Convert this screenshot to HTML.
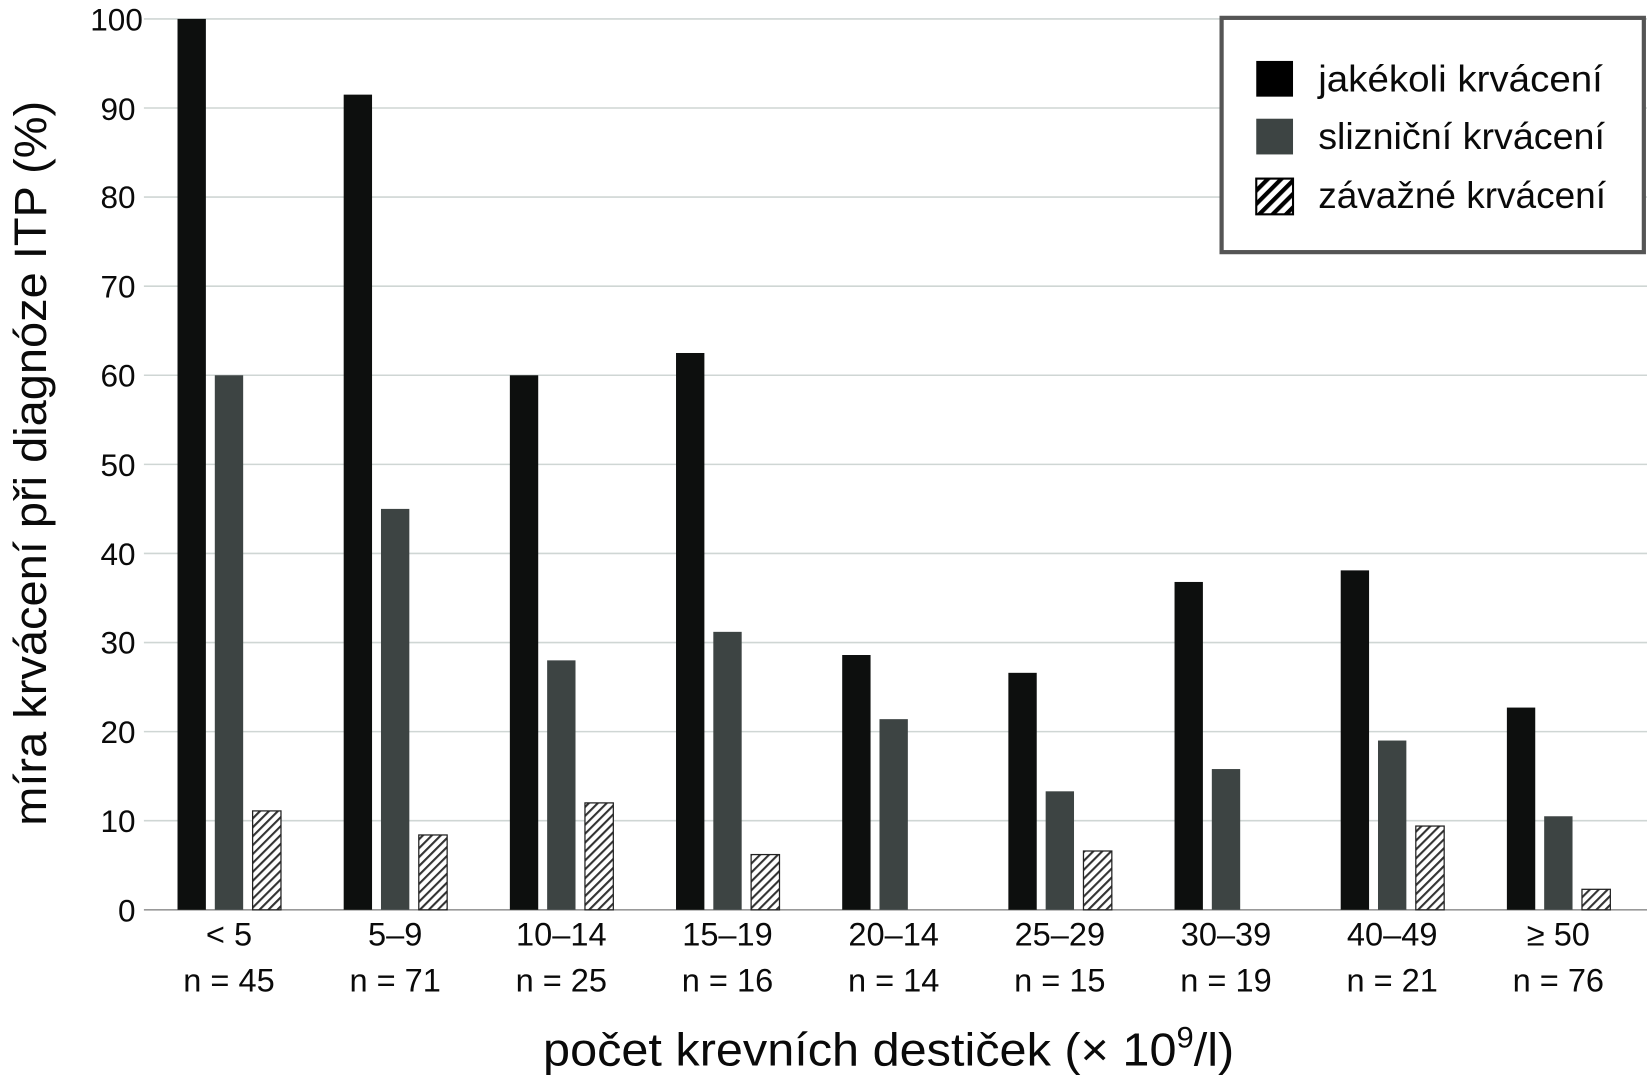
<!DOCTYPE html>
<html><head><meta charset="utf-8"><style>
html,body{margin:0;padding:0;background:#fff;}
svg{display:block;}
text{font-family:"Liberation Sans",sans-serif;fill:#0a0a0a;}
</style></head><body>
<svg width="1647" height="1080" viewBox="0 0 1568 1028" preserveAspectRatio="none" xmlns="http://www.w3.org/2000/svg">
<defs>
<pattern id="h" patternUnits="userSpaceOnUse" width="6" height="6" patternTransform="rotate(45)">
<rect width="6" height="6" fill="#fff"/><rect width="2" height="6" fill="#333"/>
</pattern>
<pattern id="h2" patternUnits="userSpaceOnUse" width="9" height="9" patternTransform="rotate(45)">
<rect width="9" height="9" fill="#fff"/><rect width="4" height="9" fill="#000"/>
</pattern>
</defs>
<g stroke="#cfd6d4" stroke-width="1.5">
<line x1="137" x2="1568" y1="781.2" y2="781.2"/><line x1="137" x2="1568" y1="696.4" y2="696.4"/>
<line x1="137" x2="1568" y1="611.6" y2="611.6"/><line x1="137" x2="1568" y1="526.8" y2="526.8"/>
<line x1="137" x2="1568" y1="442" y2="442"/><line x1="137" x2="1568" y1="357.2" y2="357.2"/>
<line x1="137" x2="1568" y1="272.4" y2="272.4"/><line x1="137" x2="1568" y1="187.6" y2="187.6"/>
<line x1="137" x2="1568" y1="102.8" y2="102.8"/><line x1="137" x2="1568" y1="18" y2="18"/>
</g>
<line x1="137" x2="1568" y1="866" y2="866" stroke="#999" stroke-width="1.5"/>
<g id="bars"></g>
<g font-size="30" text-anchor="end">
<text x="129" y="877">0</text><text x="129" y="792">10</text><text x="129" y="707">20</text>
<text x="129" y="622">30</text><text x="129" y="538">40</text><text x="129" y="453">50</text>
<text x="129" y="368">60</text><text x="129" y="283">70</text><text x="129" y="198">80</text>
<text x="129" y="114">90</text><text x="136" y="29">100</text>
</g>
<g id="xl" font-size="31" text-anchor="middle"></g>
<text x="517" y="1014" font-size="44" textLength="658" lengthAdjust="spacingAndGlyphs">počet krevních destiček (× 10<tspan font-size="28" dy="-17">9</tspan><tspan dy="17">/l)</tspan></text>
<text transform="translate(44,786) rotate(-90)" font-size="43" textLength="690" lengthAdjust="spacingAndGlyphs">míra krvácení při diagnóze ITP (%)</text>
<rect x="1163" y="17" width="402" height="223" fill="#fff" stroke="#555" stroke-width="4"/>
<rect x="1196" y="58" width="35" height="34" fill="#000"/>
<rect x="1196" y="113" width="35" height="34" fill="#3d4443"/>
<rect x="1196" y="170" width="35" height="34" fill="url(#h2)" stroke="#000" stroke-width="2"/>
<g font-size="35">
<text x="1255" y="87" textLength="271" lengthAdjust="spacingAndGlyphs">jakékoli krvácení</text>
<text x="1255" y="142" textLength="273" lengthAdjust="spacingAndGlyphs">slizniční krvácení</text>
<text x="1255" y="198" textLength="274" lengthAdjust="spacingAndGlyphs">závažné krvácení</text>
</g>
</svg>
<script>
const b=[100,91.5,60,62.5,28.6,26.6,36.8,38.1,22.7],g=[60,45,28,31.2,21.4,13.3,15.8,19,10.5],h=[11.1,8.4,12,6.2,0,6.6,0,9.4,2.3];
const l1=["< 5","5–9","10–14","15–19","20–14","25–29","30–39","40–49","≥ 50"],l2=[45,71,25,16,14,15,19,21,76];
let s="",t="";const Y=v=>866-v*8.48;
for(let i=0;i<9;i++){const c=218+i*158.2;
s+=`<rect x="${c-49}" y="${Y(b[i])}" width="27" height="${b[i]*8.48}" fill="#0d0f0e"/>`;
s+=`<rect x="${c-13.5}" y="${Y(g[i])}" width="27" height="${g[i]*8.48}" fill="#3d4443"/>`;
if(h[i])s+=`<rect x="${c+22.5}" y="${Y(h[i])}" width="27" height="${h[i]*8.48}" fill="url(#h)" stroke="#222" stroke-width="1.2"/>`;
t+=`<text x="${c}" y="900">${l1[i].replace('<','&lt;')}</text><text x="${c}" y="944">n = ${l2[i]}</text>`;}
document.getElementById('bars').innerHTML=s;document.getElementById('xl').innerHTML=t;
</script>
</body></html>
